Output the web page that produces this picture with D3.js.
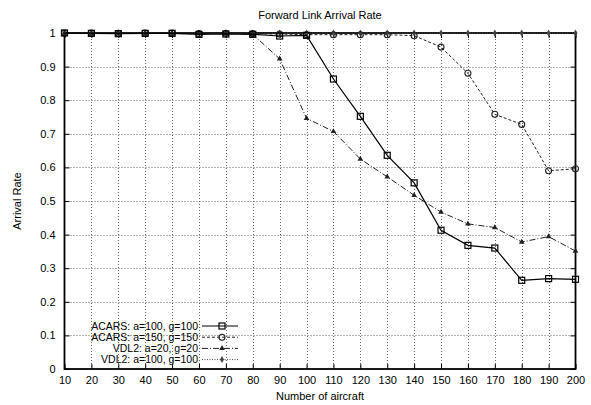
<!DOCTYPE html>
<html>
<head>
<meta charset="utf-8">
<script src="https://cdn.jsdelivr.net/npm/d3@7"></script>
<style>
  html, body { margin: 0; padding: 0; background: #fff; }
  svg { display: block; font-family: "Liberation Sans", Arial, Helvetica, sans-serif; }
</style>
</head>
<body>
<svg id="chart" width="591" height="405"></svg>
<script>
// Number of aircraft on the x axis
const aircraft = [10, 20, 30, 40, 50, 60, 70, 80, 90, 100, 110, 120, 130, 140, 150, 160, 170, 180, 190, 200];

// Arrival rate per configuration
const acars100 = [1.0, 0.999, 0.998, 0.999, 0.999, 0.996, 0.997, 0.996, 0.991, 0.993, 0.863, 0.752, 0.636, 0.554, 0.413, 0.368, 0.360, 0.264, 0.269, 0.267];
const acars150 = [1.0, 1.0, 0.999, 1.0, 1.0, 0.998, 0.999, 0.998, 0.997, 0.995, 0.995, 0.995, 0.995, 0.992, 0.958, 0.880, 0.758, 0.728, 0.590, 0.596];
const vdl20    = [1.0, 1.0, 1.0, 1.0, 1.0, 0.999, 0.999, 0.996, 0.923, 0.746, 0.707, 0.625, 0.572, 0.517, 0.467, 0.432, 0.421, 0.378, 0.394, 0.351];
const vdl100   = [1.0, 1.0, 1.0, 1.0, 1.0, 1.0, 1.0, 1.0, 1.0, 1.0, 1.0, 1.0, 1.0, 1.0, 1.0, 1.0, 1.0, 1.0, 1.0, 1.0];

const seriesNames = ["ACARS: a=100, g=100", "ACARS: a=150, g=150", "VDL2: a=20, g=20", "VDL2: a=100, g=100"];

const xTicks = [10, 20, 30, 40, 50, 60, 70, 80, 90, 100, 110, 120, 130, 140, 150, 160, 170, 180, 190, 200];
const yTicks = [0, 0.1, 0.2, 0.3, 0.4, 0.5, 0.6, 0.7, 0.8, 0.9, 1];

const titleText = "Forward Link Arrival Rate";
const xLabel = "Number of aircraft";
const yLabel = "Arrival Rate";

// Drawing styles for each series (line dash + point symbol)
const styles = [
  { color: "#000", width: 1.2, dash: null,      marker: "square" },
  { color: "#222", width: 1.0, dash: "3,2",     marker: "circle" },
  { color: "#222", width: 1.0, dash: "6,2,1,2", marker: "triangle" },
  { color: "#444", width: 1.0, dash: "1,1.5",   marker: "diamond" }
];

const allSeries = [acars100, acars150, vdl20, vdl100];

const svg = d3.select("#chart");
const margin = { left: 64.5, right: 15.5, top: 33, bottom: 36 };
const W = 591, H = 405;
const plotL = margin.left, plotR = W - margin.right, plotT = margin.top, plotB = H - margin.bottom;

const x = d3.scaleLinear().domain([10, 200]).range([plotL, plotR]);
const y = d3.scaleLinear().domain([0, 1]).range([plotB, plotT]);

// Grid (dotted)
const grid = svg.append("g").attr("stroke", "#666").attr("stroke-width", 1).attr("stroke-dasharray", "1,2");
grid.selectAll("line.gx").data(xTicks.slice(1, -1)).join("line")
  .attr("x1", d => Math.round(x(d)) + 0.5).attr("x2", d => Math.round(x(d)) + 0.5)
  .attr("y1", plotT).attr("y2", plotB);
grid.selectAll("line.gy").data(yTicks.slice(1, -1)).join("line")
  .attr("y1", d => Math.round(y(d)) + 0.5).attr("y2", d => Math.round(y(d)) + 0.5)
  .attr("x1", plotL).attr("x2", plotR);

// Axes with inward ticks on all four sides
const tickLen = 5;
const xAxisB = d3.axisBottom(x).tickValues(xTicks).tickSize(-tickLen).tickPadding(7).tickFormat(d3.format("d"));
const xAxisT = d3.axisTop(x).tickValues(xTicks).tickSize(-tickLen).tickFormat("");
const yAxisL = d3.axisLeft(y).tickValues(yTicks).tickSize(-tickLen).tickPadding(9).tickFormat(d => d === 0 || d === 1 ? d3.format("d")(d) : d3.format(".1f")(d));
const yAxisR = d3.axisRight(y).tickValues(yTicks).tickSize(-tickLen).tickFormat("");

function styleAxis(g) {
  g.select(".domain").remove();
  g.selectAll(".tick line").attr("stroke", "#000").attr("stroke-width", 1);
  g.selectAll(".tick text").attr("fill", "#000").style("font-size", "11px");
}
svg.append("g").attr("transform", `translate(0,${plotB})`).call(xAxisB).call(styleAxis);
svg.append("g").attr("transform", `translate(0,${plotT})`).call(xAxisT).call(styleAxis);
svg.append("g").attr("transform", `translate(${plotL},0)`).call(yAxisL).call(styleAxis);
svg.append("g").attr("transform", `translate(${plotR},0)`).call(yAxisR).call(styleAxis);

// Border
svg.append("rect").attr("x", plotL).attr("y", plotT).attr("width", plotR - plotL).attr("height", plotB - plotT)
  .attr("fill", "none").attr("stroke", "#000").attr("stroke-width", 1.8);

// Point symbols
function drawMarker(g, type, cx, cy, color) {
  if (type === "square") {
    g.append("rect").attr("x", cx - 3).attr("y", cy - 3).attr("width", 6).attr("height", 6)
      .attr("fill", "none").attr("stroke", color).attr("stroke-width", 1.2);
  } else if (type === "circle") {
    g.append("circle").attr("cx", cx).attr("cy", cy).attr("r", 3)
      .attr("fill", "none").attr("stroke", color).attr("stroke-width", 1.1);
  } else if (type === "triangle") {
    g.append("path").attr("d", d3.symbol(d3.symbolTriangle, 14)()).attr("transform", `translate(${cx},${cy})`)
      .attr("fill", color);
  } else {
    g.append("path").attr("d", d3.symbol(d3.symbolDiamond, 14)()).attr("transform", `translate(${cx},${cy})`)
      .attr("fill", color);
  }
}

const line = d3.line().x((d, i) => x(aircraft[i])).y(d => y(d));

// Series, drawn last-to-first so the solid line stays on top
for (let s = allSeries.length - 1; s >= 0; s--) {
  const st = styles[s];
  const g = svg.append("g");
  g.append("path").datum(allSeries[s]).attr("d", line)
    .attr("fill", "none").attr("stroke", st.color).attr("stroke-width", st.width)
    .attr("stroke-dasharray", st.dash);
  allSeries[s].forEach((v, i) => drawMarker(g, st.marker, x(aircraft[i]), y(v), st.color));
}

// Legend
const legend = svg.append("g");
const legTextX = 198, legL1 = 202, legL2 = 238, legY0 = 326, legDY = 11.2;
seriesNames.forEach((name, i) => {
  const st = styles[i];
  const ly = legY0 + i * legDY;
  legend.append("text").attr("x", legTextX).attr("y", ly).attr("dy", "0.35em")
    .attr("text-anchor", "end").style("font-size", "10.5px").text(name);
  legend.append("line").attr("x1", legL1).attr("x2", legL2).attr("y1", ly).attr("y2", ly)
    .attr("stroke", st.color).attr("stroke-width", st.width).attr("stroke-dasharray", st.dash);
  drawMarker(legend, st.marker, (legL1 + legL2) / 2 + 2, ly, st.color);
});

// Titles
svg.append("text").attr("x", (plotL + plotR) / 2).attr("y", 19).attr("text-anchor", "middle")
  .style("font-size", "11px").text(titleText);
svg.append("text").attr("x", (plotL + plotR) / 2).attr("y", 400).attr("text-anchor", "middle")
  .style("font-size", "11px").text(xLabel);
svg.append("text").attr("transform", `translate(21,${(plotT + plotB) / 2}) rotate(-90)`)
  .attr("text-anchor", "middle").style("font-size", "11px").text(yLabel);
</script>
</body>
</html>
